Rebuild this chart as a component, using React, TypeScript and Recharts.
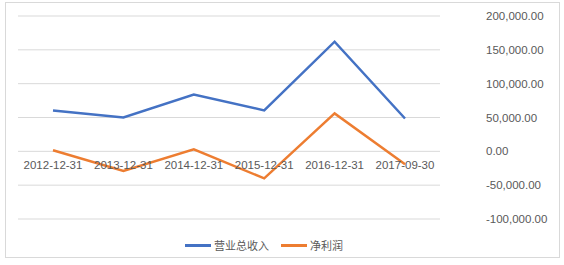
import { LineChart, Line, XAxis, YAxis, CartesianGrid } from 'recharts'

const DATES = ['2012-12-31', '2013-12-31', '2014-12-31', '2015-12-31', '2016-12-31', '2017-09-30']
const REVENUE = [60500, 50000, 84000, 60500, 162000, 48500]
const PROFIT = [1500, -29000, 3000, -40000, 56000, -19000]
const Y_TICKS = [-100000, -50000, 0, 50000, 100000, 150000, 200000]

const BLUE = '#4472C4'
const ORANGE = '#ED7D31'
const GREY = '#595959'

const data = DATES.map((d, i) => ({ date: d, revenue: REVENUE[i], profit: PROFIT[i] }))

const fmt = (v: number) =>
  v.toLocaleString('en-US', { minimumFractionDigits: 2, maximumFractionDigits: 2 })

function XTick({ x, y, payload }: any) {
  return (
    <text x={x} y={y} dy={-58} textAnchor="middle" fill={GREY} fontSize={11.5} fontFamily="Liberation Sans, Arial, sans-serif">
      {payload.value}
    </text>
  )
}

function YTick({ x, y, payload }: any) {
  return (
    <text x={x} y={y} dy={4} textAnchor="start" fill={GREY} fontSize={11.5} fontFamily="Liberation Sans, Arial, sans-serif">
      {fmt(payload.value)}
    </text>
  )
}

export default function App() {
  return (
    <div style={{ position: 'absolute', left: 0, top: 0, width: 564, height: 265, background: '#fff' }}>
      <div style={{ position: 'absolute', left: 5, top: 2, width: 553, height: 254, border: '1px solid #d9d9d9' }} />
      <LineChart width={564} height={265} data={data} margin={{ top: 16, right: 14, left: 18, bottom: 16 }}>
        <CartesianGrid vertical={false} stroke="#d9d9d9" />
        <XAxis
          dataKey="date"
          axisLine={false}
          tickLine={false}
          height={30}
          tick={<XTick />}
          interval={0}
          padding={{ left: 35, right: 35 }}
        />
        <YAxis
          orientation="right"
          domain={[-100000, 200000]}
          ticks={Y_TICKS}
          axisLine={false}
          tickLine={false}
          width={110}
          tickMargin={40}
          tick={<YTick />}
        />
        <Line dataKey="revenue" stroke={BLUE} strokeWidth={2.5} dot={false} isAnimationActive={false} />
        <Line dataKey="profit" stroke={ORANGE} strokeWidth={2.5} dot={false} isAnimationActive={false} />
      </LineChart>
      <div style={{ position: 'absolute', top: 237, left: 185, display: 'flex', alignItems: 'center', fontFamily: '"Noto Sans CJK SC", sans-serif', fontSize: 11, color: GREY }}>
        <span style={{ display: 'inline-block', width: 26, height: 3, background: BLUE, marginRight: 3 }} />
        <span>营业总收入</span>
        <span style={{ display: 'inline-block', width: 26, height: 3, background: ORANGE, marginLeft: 12, marginRight: 3 }} />
        <span>净利润</span>
      </div>
    </div>
  )
}
